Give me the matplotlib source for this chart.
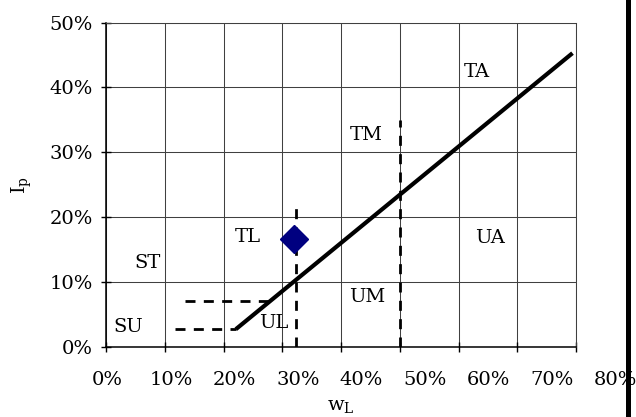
import matplotlib
matplotlib.use("Agg")
import matplotlib.pyplot as plt
from matplotlib.patches import Rectangle

plt.rcParams["font.family"] = ["DejaVu Serif"]
plt.rcParams["mathtext.fontset"] = "dejavuserif"

# Plasticity chart data (values in %)
x_ticks = [0, 10, 20, 30, 40, 50, 60, 70, 80]
x_labels = ["0%", "10%", "20%", "30%", "40%", "50%", "60%", "70%", "80%"]
y_ticks = [0, 10, 20, 30, 40, 50]
y_labels = ["0%", "10%", "20%", "30%", "40%", "50%"]

# A-line (liquid limit wL vs plasticity index Ip)
a_line_wl = [22.1, 79.4]
a_line_ip = [2.7, 45.3]

# Boundary lines (dashed)
low_band_wl = [11.7, 22.1]
low_band_ip = [2.7, 2.7]
upper_band_wl = [13.4, 27.7]
upper_band_ip = [7.0, 7.0]
wl30_wl = [32.4, 32.4]
wl30_ip = [0.0, 22.0]
wl50_wl = [50.0, 50.0]
wl50_ip = [0.0, 35.0]

# Sample point
sample_wl = [32.0]
sample_ip = [16.6]

# Zone labels
zone_names = ["SU", "ST", "TL", "UL", "UM", "TM", "TA", "UA"]
zone_wl = [3.7, 7.1, 24.1, 28.5, 44.4, 44.3, 63.1, 65.3]
zone_ip = [3.1, 12.9, 16.9, 3.7, 7.7, 32.7, 42.4, 16.8]

fig = plt.figure(figsize=(6.36, 4.17), dpi=100)
ax = fig.add_axes([0.1667, 0.1686, 0.739, 0.777])

ax.set_xlim(0, 80)
ax.set_ylim(0, 50)
ax.set_xticks(x_ticks)
ax.set_yticks(y_ticks)
ax.set_xticklabels([])
ax.set_yticklabels(y_labels, fontsize=14)
ax.tick_params(axis="both", direction="inout", length=7, width=1, color="black")
ax.tick_params(axis="y", pad=6)

ax.grid(True, color="#404040", linewidth=0.75)
ax.set_axisbelow(True)
for side in ["top", "right"]:
    ax.spines[side].set_color("#404040")
    ax.spines[side].set_linewidth(0.75)
for side in ["left", "bottom"]:
    ax.spines[side].set_color("black")
    ax.spines[side].set_linewidth(1.1)

# x tick labels, spread slightly wider than the ticks
for i, (v, s) in enumerate(zip(x_ticks, x_labels)):
    ax.annotate(s, xy=(v, 0), xycoords=("data", "axes fraction"),
                xytext=(1.0 + 3.45 * i, -17.5), textcoords="offset points",
                ha="center", va="top", fontsize=14, annotation_clip=False)

dash = dict(color="black", linewidth=2.0, dashes=[3.6, 3.0])
ax.plot(low_band_wl, low_band_ip, **dash)
ax.plot(upper_band_wl, upper_band_ip, **dash)
ax.plot(wl30_wl, wl30_ip, **dash)
ax.plot(wl50_wl, wl50_ip, **dash)

ax.plot(a_line_wl, a_line_ip, color="black", linewidth=3.0, solid_capstyle="butt")

ax.plot(sample_wl, sample_ip, marker="D", markersize=14.5, color="#000080",
        markeredgecolor="#000080", linestyle="none", zorder=5)

for name, xv, yv in zip(zone_names, zone_wl, zone_ip):
    ax.text(xv, yv, name, fontsize=14, ha="center", va="center")

ax.set_ylabel(r"I$_\mathrm{p}$", fontsize=14, labelpad=11)
ax.annotate(r"w$_\mathrm{L}$", xy=(0.5, 0), xycoords="axes fraction",
            xytext=(0, -36), textcoords="offset points",
            ha="center", va="top", fontsize=14, annotation_clip=False)

# dark bar along the right edge
fig.patches.append(Rectangle((626 / 636, 0), 5 / 636, 1, transform=fig.transFigure,
                             facecolor="black", edgecolor="none", zorder=10))

fig.savefig("out.png", dpi=100)
